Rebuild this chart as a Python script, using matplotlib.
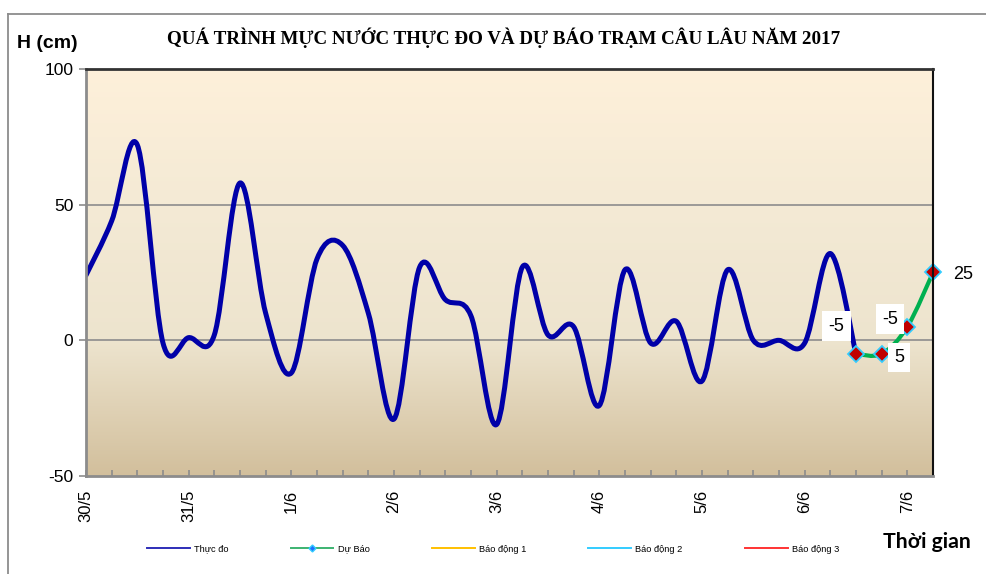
import numpy as np
import matplotlib
matplotlib.use("Agg")
import matplotlib.pyplot as plt
from matplotlib.path import Path
from matplotlib.patches import PathPatch
from matplotlib.lines import Line2D
from matplotlib.colors import LinearSegmentedColormap

# ---------------- data ----------------
day_labels = ['30/5', '31/5', '1/6', '2/6', '3/6', '4/6', '5/6', '6/6', '7/6']
steps_per_day = 4          # observations every 6 hours
n_steps = 34               # 30/5 00h ... 7/6 06h

observed = [24, 44, 72, -1, 1, 2, 58, 10, -12, 30, 35, 10, -29, 27, 15, 9,
            -31, 27, 2, 5, -24, 26, -1, 7, -15, 26, 0, 0, -1, 32, -5]
forecast_start = 30
forecast = [-5, -5, 5, 25]

title = "QUÁ TRÌNH MỰC NƯỚC THỰC ĐO VÀ DỰ BÁO TRẠM CÂU LÂU NĂM 2017"
legend_names = ['Thực đo', 'Dự Báo', 'Báo động 1', 'Báo động 2', 'Báo động 3']

# ---------------- helpers ----------------
def smooth_path(xs, ys):
    verts = [(xs[0], ys[0])]
    codes = [Path.MOVETO]
    n = len(xs)
    for i in range(n - 1):
        a = i - 1 if i > 0 else i
        d = i + 2 if i + 2 < n else i + 1
        c1 = (xs[i] + (xs[i + 1] - xs[a]) / 6.0, ys[i] + (ys[i + 1] - ys[a]) / 6.0)
        c2 = (xs[i + 1] - (xs[d] - xs[i]) / 6.0, ys[i + 1] - (ys[d] - ys[i]) / 6.0)
        verts += [c1, c2, (xs[i + 1], ys[i + 1])]
        codes += [Path.CURVE4] * 3
    return Path(verts, codes)

plt.rcParams['font.family'] = ['Liberation Sans', 'DejaVu Sans']

fig = plt.figure(figsize=(9.87, 5.74), dpi=100)
ax = fig.add_axes([86 / 987, 1 - 476 / 574, (933 - 86) / 987, (476 - 69) / 574])

# gradient background
cmap = LinearSegmentedColormap.from_list(
    'bg', [(0.0, '#FEF0DA'), (0.33, '#F4EAD5'), (0.67, '#EDE4CE'), (1.0, '#D2BF9C')])
grad = np.linspace(0, 1, 256).reshape(-1, 1)
ax.imshow(grad, cmap=cmap, aspect='auto', extent=[0, 1, 0, 1],
          transform=ax.transAxes, zorder=0, interpolation='bilinear')

ax.set_xlim(0, n_steps - 1)
ax.set_ylim(-50, 100)

# gridlines
for yv in [0, 50]:
    ax.axhline(yv, color='#8C8C8C', lw=1.2, zorder=1)

# observed smoothed line
xo = np.arange(len(observed), dtype=float)
ax.add_patch(PathPatch(smooth_path(xo, np.array(observed, float)), fill=False,
                       edgecolor='#0000A8', lw=3.6, capstyle='round',
                       joinstyle='round', zorder=3))

# forecast smoothed line
xf = np.arange(forecast_start, forecast_start + len(forecast), dtype=float)
ax.add_patch(PathPatch(smooth_path(xf, np.array(forecast, float)), fill=False,
                       edgecolor='#00B050', lw=3.0, capstyle='round',
                       joinstyle='round', zorder=4))
ax.plot(xf, forecast, linestyle='none', marker='D', markersize=8.5,
        markerfacecolor='#C00000', markeredgecolor='#33CCFF', markeredgewidth=1.3,
        zorder=5, clip_on=False)

# data labels (offsets in points)
offsets = [(-14, 20), (6, 25), (-6, -22), (22, -1.5)]
for (x, y, (dx, dy)) in zip(xf, forecast, offsets):
    boxed = dx != 22
    ax.annotate(f"{y:d}", (x, y), xytext=(dx, dy), textcoords='offset points',
                ha='center', va='center', fontsize=13, zorder=6,
                annotation_clip=False,
                bbox=dict(boxstyle='square,pad=0.35', fc='white', ec='none') if boxed else None)

# ticks
ax.set_xticks(np.arange(0, n_steps, steps_per_day))
ax.set_xticklabels(day_labels, rotation=90, fontsize=12)
ax.set_xticks(np.arange(0, n_steps), minor=True)
ax.tick_params(axis='x', which='both', direction='in', length=4.5, width=1.2,
               color='#8C8C8C', pad=10)
ax.set_yticks([-50, 0, 50, 100])
ax.set_yticklabels(['-50', '0', '50', '100'], fontsize=12.5)
ax.tick_params(axis='y', direction='out', length=5, width=1.2, color='#8C8C8C', pad=4)

for s in ['left', 'bottom']:
    ax.spines[s].set_color('#8C8C8C')
    ax.spines[s].set_linewidth(2)
ax.spines['top'].set_color('#333333')
ax.spines['top'].set_linewidth(2)
ax.spines['right'].set_color('#111111')
ax.spines['right'].set_linewidth(1.5)
for s in ax.spines.values():
    s.set_zorder(7)

# texts
fig.text(504 / 987, 1 - 38 / 574, title, ha='center', va='center',
         fontsize=13.7, fontweight='bold', family=['Liberation Serif', 'DejaVu Serif'])
fig.text(17 / 987, 1 - 43 / 574, 'H (cm)', ha='left', va='center',
         fontsize=14, fontweight='bold')
fig.text(883 / 987, 1 - 542 / 574, 'Thời gian', ha='left', va='center',
         fontsize=15.3, fontweight='bold', family=['Lato', 'DejaVu Sans'])

# legend
handles = [
    Line2D([], [], color='#2E2EB8', lw=1.4),
    Line2D([], [], color='#3CB371', lw=1.4, marker='D', markersize=3.5,
           markerfacecolor='#1E6FFF', markeredgecolor='#33CCFF'),
    Line2D([], [], color='#FFC000', lw=1.4),
    Line2D([], [], color='#33CCFF', lw=1.4),
    Line2D([], [], color='#FF3333', lw=1.4),
]
fig.legend(handles, legend_names, loc='center', bbox_to_anchor=(493 / 987, 1 - 549 / 574),
           ncol=5, frameon=False, fontsize=6.7, handlelength=4.6, handletextpad=0.45,
           columnspacing=6.7)

# outer frame lines (top and left)
fig.add_artist(Line2D([8 / 987, 1], [1 - 14 / 574, 1 - 14 / 574], color='#8C8C8C',
                      lw=1.3, transform=fig.transFigure))
fig.add_artist(Line2D([8 / 987, 8 / 987], [0, 1 - 14 / 574], color='#8C8C8C',
                      lw=1.3, transform=fig.transFigure))

fig.savefig('out.png', dpi=100)
